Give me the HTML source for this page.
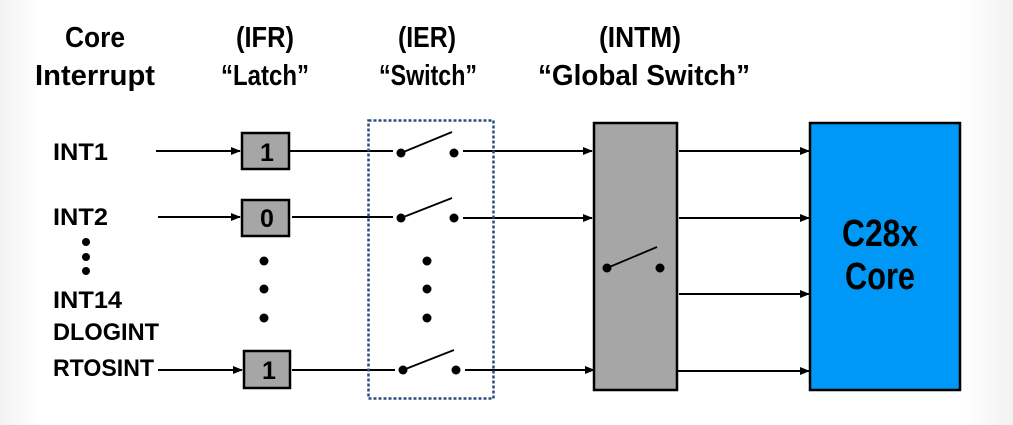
<!DOCTYPE html>
<html><head><meta charset="utf-8"><style>
html,body{margin:0;padding:0;background:#fff;}
svg{display:block;}
text{font-family:"Liberation Sans",sans-serif;font-weight:bold;fill:#000;}
</style></head><body>
<svg width="1013" height="425" viewBox="0 0 1013 425" xmlns="http://www.w3.org/2000/svg">
<defs>
<marker id="a" markerWidth="10" markerHeight="8" refX="9" refY="4" orient="auto" markerUnits="userSpaceOnUse">
<path d="M0,0 L10,4 L0,8 Z" fill="#000"/></marker>
<linearGradient id="bg" x1="0" x2="1" y1="0" y2="0">
<stop offset="0" stop-color="#f2f2f2"/><stop offset="0.04" stop-color="#fff"/><stop offset="0.95" stop-color="#fff"/><stop offset="1" stop-color="#f2f2f2"/></linearGradient>
</defs>
<rect width="1013" height="425" fill="url(#bg)"/>
<g font-size="29" text-anchor="middle">
<text x="95" y="47" textLength="60" lengthAdjust="spacingAndGlyphs">Core</text>
<text x="95" y="85" textLength="120" lengthAdjust="spacingAndGlyphs">Interrupt</text>
<text x="265" y="47" textLength="58" lengthAdjust="spacingAndGlyphs">(IFR)</text>
<text x="265" y="85" textLength="88" lengthAdjust="spacingAndGlyphs">“Latch”</text>
<text x="427" y="47" textLength="58" lengthAdjust="spacingAndGlyphs">(IER)</text>
<text x="428" y="85" textLength="98" lengthAdjust="spacingAndGlyphs">“Switch”</text>
<text x="640" y="47" textLength="82" lengthAdjust="spacingAndGlyphs">(INTM)</text>
<text x="644" y="85" textLength="212" lengthAdjust="spacingAndGlyphs">“Global Switch”</text>
</g>
<g font-size="24">
<text x="53" y="160" textLength="55" lengthAdjust="spacingAndGlyphs">INT1</text>
<text x="53" y="225" textLength="55" lengthAdjust="spacingAndGlyphs">INT2</text>
<text x="53" y="308" textLength="69" lengthAdjust="spacingAndGlyphs">INT14</text>
<text x="53" y="340" textLength="106" lengthAdjust="spacingAndGlyphs">DLOGINT</text>
<text x="53" y="376" textLength="101" lengthAdjust="spacingAndGlyphs">RTOSINT</text>
</g>
<g fill="#000">
<circle cx="86" cy="242" r="4"/><circle cx="86" cy="257" r="4"/><circle cx="86" cy="271" r="4"/>
<circle cx="264" cy="261" r="4.5"/><circle cx="264" cy="289" r="4.5"/><circle cx="264" cy="318" r="4.5"/>
<circle cx="427" cy="261" r="4.5"/><circle cx="427" cy="289" r="4.5"/><circle cx="427" cy="318" r="4.5"/>
</g>
<g stroke="#000" stroke-width="2" fill="none">
<line x1="156" y1="151" x2="240" y2="151" marker-end="url(#a)"/>
<line x1="158" y1="217" x2="240" y2="217" marker-end="url(#a)"/>
<line x1="158" y1="370" x2="242" y2="370" marker-end="url(#a)"/>
<line x1="290" y1="151" x2="393" y2="151"/>
<line x1="292" y1="217" x2="393" y2="217"/>
<line x1="292" y1="370" x2="395" y2="370"/>
<line x1="463" y1="151" x2="592" y2="151" marker-end="url(#a)"/>
<line x1="463" y1="218" x2="592" y2="218" marker-end="url(#a)"/>
<line x1="465" y1="370" x2="594" y2="370" marker-end="url(#a)"/>
<line x1="679" y1="151" x2="809" y2="151" marker-end="url(#a)"/>
<line x1="679" y1="218" x2="809" y2="218" marker-end="url(#a)"/>
<line x1="679" y1="294" x2="809" y2="294" marker-end="url(#a)"/>
<line x1="678" y1="371" x2="809" y2="371" marker-end="url(#a)"/>
</g>
<g fill="#a6a6a6" stroke="#000" stroke-width="2.5">
<rect x="242" y="133" width="47" height="36"/>
<rect x="242" y="200" width="47" height="36"/>
<rect x="244" y="351" width="46" height="37"/>
<rect x="594" y="123" width="83" height="267"/>
</g>
<rect x="810" y="123" width="150" height="267" fill="#0098f6" stroke="#000" stroke-width="2.5"/>
<g font-size="25" text-anchor="middle">
<text x="267" y="161">1</text><text x="267" y="227">0</text><text x="269" y="379">1</text>
</g>
<g font-size="38" text-anchor="middle">
<text x="880" y="246" textLength="76" lengthAdjust="spacingAndGlyphs">C28x</text>
<text x="880" y="289" textLength="70" lengthAdjust="spacingAndGlyphs">Core</text>
</g>
<g stroke="#000" stroke-width="1.8">
<line x1="401" y1="153" x2="452" y2="132"/>
<line x1="401" y1="218" x2="452" y2="198"/>
<line x1="403" y1="370" x2="454" y2="350"/>
<line x1="607" y1="268" x2="657" y2="247"/>
</g>
<g fill="#000">
<circle cx="401" cy="153" r="4.5"/><circle cx="454" cy="153" r="4.5"/>
<circle cx="401" cy="218" r="4.5"/><circle cx="454" cy="218" r="4.5"/>
<circle cx="403" cy="370" r="4.5"/><circle cx="456" cy="370" r="4.5"/>
<circle cx="607" cy="268" r="4.5"/><circle cx="660" cy="268" r="4.5"/>
</g>
<rect x="368.5" y="120.5" width="125" height="278" fill="none" stroke="#2c4d7e" stroke-width="2.5" stroke-dasharray="3,2"/>
</svg>
</body></html>
